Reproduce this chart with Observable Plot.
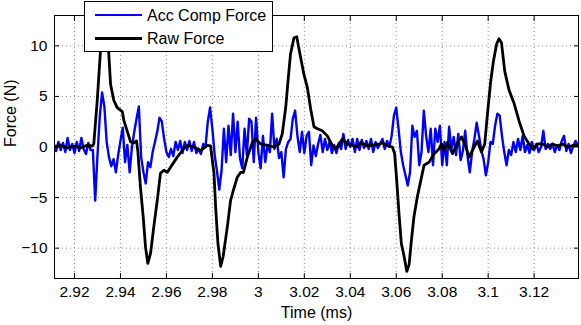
<!DOCTYPE html>
<html><head><meta charset="utf-8">
<script src="https://cdn.jsdelivr.net/npm/d3@7"></script>
<script src="https://cdn.jsdelivr.net/npm/@observablehq/plot@0.6"></script>
<style>
body{margin:0;background:#fff;}
#wrap{position:relative;width:581px;height:325px;font-family:"Liberation Sans",Arial,sans-serif;}
#legend{position:absolute;left:84px;top:1px;width:187px;height:49px;border:1px solid #000;background:#fff;}
.sw{position:absolute;left:10px;width:47px;}
.lt{position:absolute;left:62px;font-size:16px;line-height:16px;white-space:nowrap;color:#000;}
</style></head><body><div id="wrap"></div>
<script>
// Raw Force (black): time in ms, force in N
const rawT = [2.9109,2.9139,2.9170,2.9200,2.9226,2.9252,2.9278,2.9284,2.9299,2.9313,2.9322,2.9335,2.9349,2.9357,2.9371,2.9386,2.9408,2.9415,2.9429,2.9444,2.9458,2.9470,2.9476,2.9487,2.9499,2.9509,2.9519,2.9531,2.9545,2.9560,2.9574,2.9589,2.9604,2.9618,2.9647,2.9676,2.9691,2.9720,2.9749,2.9778,2.9792,2.9807,2.9814,2.9824,2.9836,2.9847,2.9865,2.9879,2.9891,2.9908,2.9923,2.9935,2.9952,2.9974,2.9988,3.0010,3.0039,3.0068,3.0090,3.0104,3.0119,3.0129,3.0140,3.0155,3.0167,3.0181,3.0198,3.0213,3.0228,3.0242,3.0257,3.0278,3.0300,3.0322,3.0336,3.0351,3.0366,3.0387,3.0409,3.0431,3.0445,3.0467,3.0489,3.0518,3.0540,3.0561,3.0583,3.0593,3.0602,3.0612,3.0622,3.0634,3.0646,3.0656,3.0666,3.0677,3.0692,3.0707,3.0721,3.0743,3.0764,3.0786,3.0797,3.0808,3.0823,3.0845,3.0867,3.0884,3.0903,3.0917,3.0939,3.0953,3.0971,3.0985,3.0997,3.1011,3.1023,3.1037,3.1047,3.1058,3.1072,3.1091,3.1113,3.1134,3.1156,3.1178,3.1193,3.1215,3.1236,3.1258,3.1280,3.1302,3.1323,3.1345,3.1367,3.1389];
const rawF = [0.0,0.2,-0.1,0.1,-0.1,0.15,0.1,0.3,4.6,9.5,12.0,12.3,9.3,6.2,4.6,3.9,3.5,2.6,1.6,0.5,0.4,0.6,-0.5,-4.0,-6.9,-9.9,-11.5,-10.5,-7.9,-5.3,-2.6,-2.3,-2.5,-2.0,-1.0,-0.15,0.15,0.0,-0.35,0.15,0.1,-2.6,-5.9,-9.5,-11.8,-10.8,-7.9,-5.3,-4.3,-3.0,-2.5,-2.5,-1.0,0.45,0.8,0.3,0.15,0.0,0.3,1.3,3.9,6.5,9.2,10.8,10.9,9.2,7.2,5.9,3.7,2.0,1.8,1.6,1.1,0.15,-0.2,0.3,0.8,0.3,0.15,0.0,0.45,0.15,0.15,0.25,0.4,0.15,0.0,-0.65,-3.3,-6.6,-9.5,-10.8,-12.3,-11.6,-9.2,-6.9,-4.9,-3.3,-1.8,-1.5,-0.7,-0.2,0.3,-0.35,0.45,-0.65,0.45,1.0,0.0,-1.0,0.0,0.6,-0.5,0.3,3.3,6.5,8.5,10.2,10.7,10.3,7.5,5.6,4.3,2.6,1.1,0.3,-0.2,0.3,0.3,0.0,0.3,0.1,0.3,0.0,0.15,0.15];

// Acc Comp Force (blue): sampled every 0.001 ms starting at 2.911 ms
const accStart = 2.911;
const accStep = 0.001;
const accF = [0.3,-0.4,0.5,-0.3,0.4,-0.5,0.9,-0.3,0.3,-0.6,0.5,-0.4,0.9,-0.2,-0.7,0.4,-0.3,-0.3,-5.3,-0.8,
3.0,5.4,4.0,0.5,-1.0,-1.9,-1.2,-2.5,-0.8,0.6,1.9,-1.5,0.2,-2.5,0.0,1.5,2.8,4.0,-1.0,-2.5,
-3.6,-1.5,-2.0,-0.5,0.5,1.5,2.9,2.5,0.8,-0.5,-1.0,-0.2,-0.9,0.5,-0.3,0.6,-0.6,0.5,-0.3,0.6,
-0.4,0.5,-0.6,-0.2,-0.7,0.3,0.0,2.5,3.9,1.8,-0.8,-2.4,-4.2,-2.3,1.8,-1.5,2.1,-0.8,3.3,-0.5,
2.5,-1.1,-2.1,1.8,-0.8,2.8,2.5,-1.5,2.9,-0.5,-2.1,1.1,-1.5,0.2,-0.5,3.3,-0.2,0.8,-1.1,-0.5,
-3.0,-0.2,0.5,0.8,2.8,3.6,1.1,-0.5,1.5,-0.6,1.1,1.5,-1.8,0.15,-0.9,0.3,1.2,-0.5,0.8,-0.3,
0.5,-0.6,0.2,-0.6,0.4,-0.2,1.3,-0.2,0.7,0.0,0.8,-0.5,0.8,-0.3,0.7,-0.1,0.6,-0.2,0.8,-0.5,
0.5,-0.1,0.3,0.8,-0.2,0.6,0.0,1.1,3.1,3.9,1.8,-0.5,-1.8,-2.8,-3.8,-2.5,2.1,1.0,1.6,-1.8,
-0.5,3.6,1.1,-0.5,1.8,-1.8,1.8,0.5,2.1,-1.8,0.5,-1.8,2.0,-0.2,1.0,-0.8,1.3,-1.3,-0.4,1.6,
-0.9,-2.5,-0.5,0.8,2.4,1.1,-0.3,-1.2,-2.8,-1.5,0.5,0.3,2.1,3.3,3.1,1.1,-0.5,-1.8,-0.3,-0.8,
0.5,-0.5,0.8,-0.3,1.1,-0.5,0.2,-0.6,0.5,-0.3,0.3,-0.5,0.0,1.6,-0.2,0.3,-0.2,0.3,-0.5,0.2,
-0.3,0.6,1.1,-0.4,0.3,-0.6,0.1,0.6,0.2];

const xDomain = [2.9113, 3.1393];
const yDomain = [-13, 13];
const xTicks = [2.92,2.94,2.96,2.98,3.00,3.02,3.04,3.06,3.08,3.10,3.12];
const xTickLabels = ["2.92","2.94","2.96","2.98","3","3.02","3.04","3.06","3.08","3.1","3.12"];
const yTicks = [-10,-5,0,5,10];
const yTickLabels = ["\u221210","\u22125","0","5","10"];
const seriesNames = ["Acc Comp Force","Raw Force"];
const seriesColors = ["#0000ff","#000000"];
const xLabel = "Time (ms)";
const yLabel = "Force (N)";

const acc = accF.map((f, i) => ({t: accStart + i * accStep, f}));
const raw = rawT.map((t, i) => ({t, f: rawF[i]}));

const xFmt = d => xTickLabels[xTicks.indexOf(d)];
const yFmt = d => yTickLabels[yTicks.indexOf(d)];

const chart = Plot.plot({
  width: 581, height: 325,
  marginLeft: 54, marginRight: 3, marginTop: 15, marginBottom: 47,
  style: {fontFamily: '"Liberation Sans", Arial, sans-serif', fontSize: "15.5px", background: "white", color: "black"},
  x: {domain: xDomain},
  y: {domain: yDomain},
  marks: [
    Plot.gridX(xTicks, {stroke: "#8c8c8c", strokeOpacity: 1, strokeDasharray: "1,3"}),
    Plot.gridY(yTicks, {stroke: "#8c8c8c", strokeOpacity: 1, strokeDasharray: "1,3"}),
    Plot.line(acc, {x: "t", y: "f", stroke: seriesColors[0], strokeWidth: 2.4, clip: true}),
    Plot.line(raw, {x: "t", y: "f", stroke: seriesColors[1], strokeWidth: 2.8, clip: true}),
    Plot.frame({stroke: "#000", strokeWidth: 1}),
    Plot.axisX(xTicks, {anchor: "bottom", tickSize: 0, tickPadding: 7, label: null, tickFormat: xFmt}),
    Plot.axisX(xTicks, {anchor: "bottom", tickSize: -5, text: null, label: null}),
    Plot.axisX(xTicks, {anchor: "top", tickSize: -5, text: null, label: null}),
    Plot.axisY(yTicks, {anchor: "left", tickSize: 0, tickPadding: 7, label: null, tickFormat: yFmt}),
    Plot.axisY(yTicks, {anchor: "left", tickSize: -5, text: null, label: null}),
    Plot.axisY(yTicks, {anchor: "right", tickSize: -5, text: null, label: null}),
    Plot.text([xLabel], {frameAnchor: "bottom", lineAnchor: "middle", dy: 34, fontSize: 16, fill: "black"}),
    Plot.text([yLabel], {frameAnchor: "left", lineAnchor: "middle", dx: -44, rotate: -90, fontSize: 16, fill: "black"})
  ]
});
const wrap = document.getElementById("wrap");
wrap.appendChild(chart);

const legend = document.createElement("div");
legend.id = "legend";
const rows = [{top: 12, h: 2, textTop: 6}, {top: 35, h: 3, textTop: 29}];
seriesNames.forEach((name, i) => {
  const sw = document.createElement("div");
  sw.className = "sw";
  sw.style.top = rows[i].top + "px";
  sw.style.height = rows[i].h + "px";
  sw.style.background = seriesColors[i];
  legend.appendChild(sw);
  const lt = document.createElement("div");
  lt.className = "lt";
  lt.style.top = rows[i].textTop + "px";
  lt.textContent = name;
  legend.appendChild(lt);
});
wrap.appendChild(legend);
</script>
</body></html>
